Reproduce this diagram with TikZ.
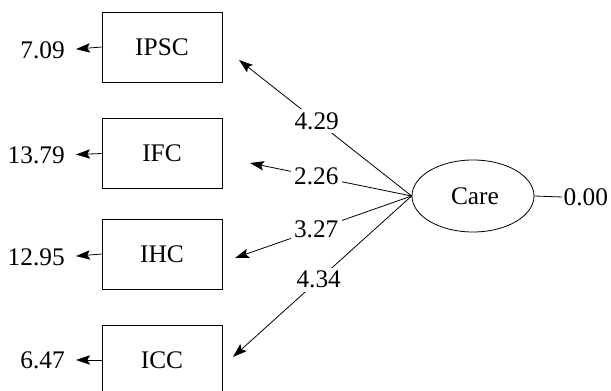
\documentclass[tikz,border=0pt]{standalone}
\usepackage{fontspec}
\setmainfont{Liberation Serif}
\usetikzlibrary{arrows.meta,shapes.geometric}
\begin{document}
\begin{tikzpicture}[x=0.75pt,y=-0.75pt,
  every node/.style={font=\fontsize{19pt}{21pt}\selectfont},
  boxnode/.style={draw,line width=0.6pt,minimum width=90pt,minimum height=52.5pt,inner sep=0pt},
  ell/.style={draw,ellipse,line width=0.6pt,minimum width=91.5pt,minimum height=54pt,inner sep=0pt},
  errlbl/.style={anchor=east,inner sep=0pt},
  lbl/.style={fill=white,inner sep=2.5pt},
  conn/.style={line width=0.6pt},
  arr/.style={conn,-{Stealth[length=10.5pt,width=7pt,inset=2pt]}}
]
\clip (0,0) rectangle (611,391);
\node[boxnode] (ipsc) at (162,47) {IPSC};
\node[boxnode] (ifc) at (162,153.5) {IFC};
\node[boxnode] (ihc) at (162,254) {IHC};
\node[boxnode] (icc) at (162,360) {ICC};
\node[errlbl] (e1) at (65,50) {7.09};
\node[errlbl] (e2) at (65,155) {13.79};
\node[errlbl] (e3) at (65,257) {12.95};
\node[errlbl] (e4) at (65,360) {6.47};
\foreach \b/\e in {ipsc/e1,ifc/e2,ihc/e3,icc/e4}
  \draw[arr,shorten >=8.25pt] (\b.west) -- (\e.east);
\node[ell] (care) at (473,196) {\hspace{3pt}Care};
\node[anchor=west,inner xsep=1pt,inner ysep=0pt] (z) at (562,197) {0.00};
\draw[conn] (care.east) -- (z.west);
\coordinate (t1) at (239,60);
\coordinate (t2) at (250,163);
\coordinate (t3) at (235,258);
\coordinate (t4) at (233,357);
\draw[arr] (care.west) -- node[lbl,pos=0.55] {4.29} (t1);
\draw[arr] (care.west) -- node[lbl,pos=0.59] {2.26} (t2);
\draw[arr] (care.west) -- node[lbl,pos=0.54] {3.27} (t3);
\draw[arr] (care.west) -- node[lbl,pos=0.52] {4.34} (t4);
\end{tikzpicture}
\end{document}
